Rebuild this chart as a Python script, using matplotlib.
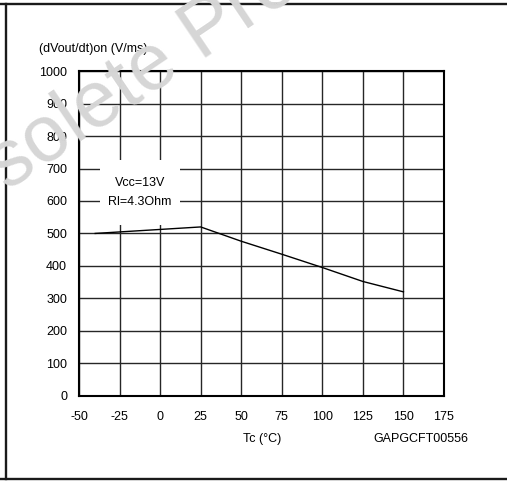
import matplotlib
matplotlib.use("Agg")
import matplotlib.pyplot as plt
from matplotlib.patches import Rectangle
from matplotlib.lines import Line2D

plt.rcParams['font.family'] = ['Liberation Sans', 'DejaVu Sans']
plt.rcParams['axes.unicode_minus'] = False

# turn-on slew rate vs case temperature
tc = [-40, 25, 50, 75, 100, 125, 150]
dvdt_on = [500, 520, 476, 436, 395, 352, 320]

xticks = [-50, -25, 0, 25, 50, 75, 100, 125, 150, 175]
yticks = [0, 100, 200, 300, 400, 500, 600, 700, 800, 900, 1000]

fig = plt.figure(figsize=(5.07, 4.83), dpi=100)
ax = fig.add_axes([0.1558, 0.1807, 0.7199, 0.672])

ax.set_xlim(-50, 175)
ax.set_ylim(0, 1000)
ax.set_xticks(xticks)
ax.set_yticks(yticks)
ax.tick_params(length=0, labelsize=9)
ax.tick_params(axis='y', pad=8.6)
ax.tick_params(axis='x', pad=11)
ax.grid(True, color='#262626', linewidth=1.0)
ax.set_axisbelow(True)
for s in ax.spines.values():
    s.set_linewidth(1.5)

# condition box knocks out the grid behind it
ax.add_patch(Rectangle((-37, 526), 49, 200, facecolor='white', edgecolor='none', zorder=2))
ax.text(-12.5, 654, "Vcc=13V", ha='center', va='center', fontsize=9, zorder=3)
ax.text(-12.5, 597, "Rl=4.3Ohm", ha='center', va='center', fontsize=9, zorder=3)

ax.plot(tc, dvdt_on, color='black', linewidth=1.0, zorder=4)

fig.text(0.0769, 0.8986, "(dVout/dt)on (V/ms)", ha='left', va='center', fontsize=9)
fig.text(0.5168, 0.0911, "Tc (°C)", ha='center', va='center', fontsize=9)
fig.text(0.7357, 0.0911, "GAPGCFT00556", ha='left', va='center', fontsize=9)

# page frame
for xs, ys in [([0, 1], [0.9917, 0.9917]), ([0.0118, 0.0118], [0.0083, 0.9917]), ([0, 1], [0.0083, 0.0083])]:
    fig.add_artist(Line2D(xs, ys, color='#1a1a1a', linewidth=1.7, transform=fig.transFigure, zorder=5))

# watermark
fig.text(162 / 507, 1 - 62 / 483, "Obsolete Product", ha='center', va='center', rotation=34,
         rotation_mode='anchor', fontsize=57, color='#d6d6d6', zorder=10)

fig.savefig("out.png", dpi=100)
